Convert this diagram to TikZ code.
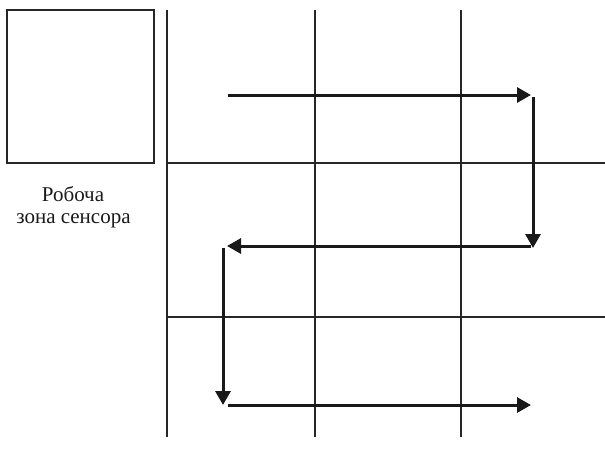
\documentclass[tikz,border=0pt]{standalone}
\usepackage{fontspec}
\setmainfont{Liberation Serif}
\usetikzlibrary{arrows.meta}
\begin{document}
\begin{tikzpicture}[x=1pt,y=-1pt,
  gridline/.style={line width=1.3pt,draw=black!85},
  route/.style={line width=3pt,draw=black!90,-{Triangle[length=14pt,width=15pt]}},
  lbl/.style={font=\fontsize{21}{23}\selectfont,text=black!90,inner sep=0pt,anchor=base}]
\useasboundingbox (0,0) rectangle (605,467);
% sensor zone box
\draw[gridline] (7,10) rectangle (154,163);
\node[lbl] (label1) at (73,201) {Робоча};
\node[lbl] (label2) at (73.5,223) {зона сенсора};
% grid
\draw[gridline] (167,10) -- (167,437);
\draw[gridline] (315,10) -- (315,437);
\draw[gridline] (461,10) -- (461,437);
\draw[gridline] (167,163) -- (605,163);
\draw[gridline] (167,317) -- (605,317);
% route points
\coordinate (a1) at (228,95);
\coordinate (a2) at (531,95);
\coordinate (b1) at (533,97);
\coordinate (b2) at (533,248);
\coordinate (c1) at (531,246);
\coordinate (c2) at (227,246);
\coordinate (d1) at (223,248);
\coordinate (d2) at (223,405);
\coordinate (e1) at (228,405);
\coordinate (e2) at (531,405);
\draw[route] (a1) -- (a2);
\draw[route] (b1) -- (b2);
\draw[route] (c1) -- (c2);
\draw[route] (d1) -- (d2);
\draw[route] (e1) -- (e2);
\end{tikzpicture}
\end{document}
